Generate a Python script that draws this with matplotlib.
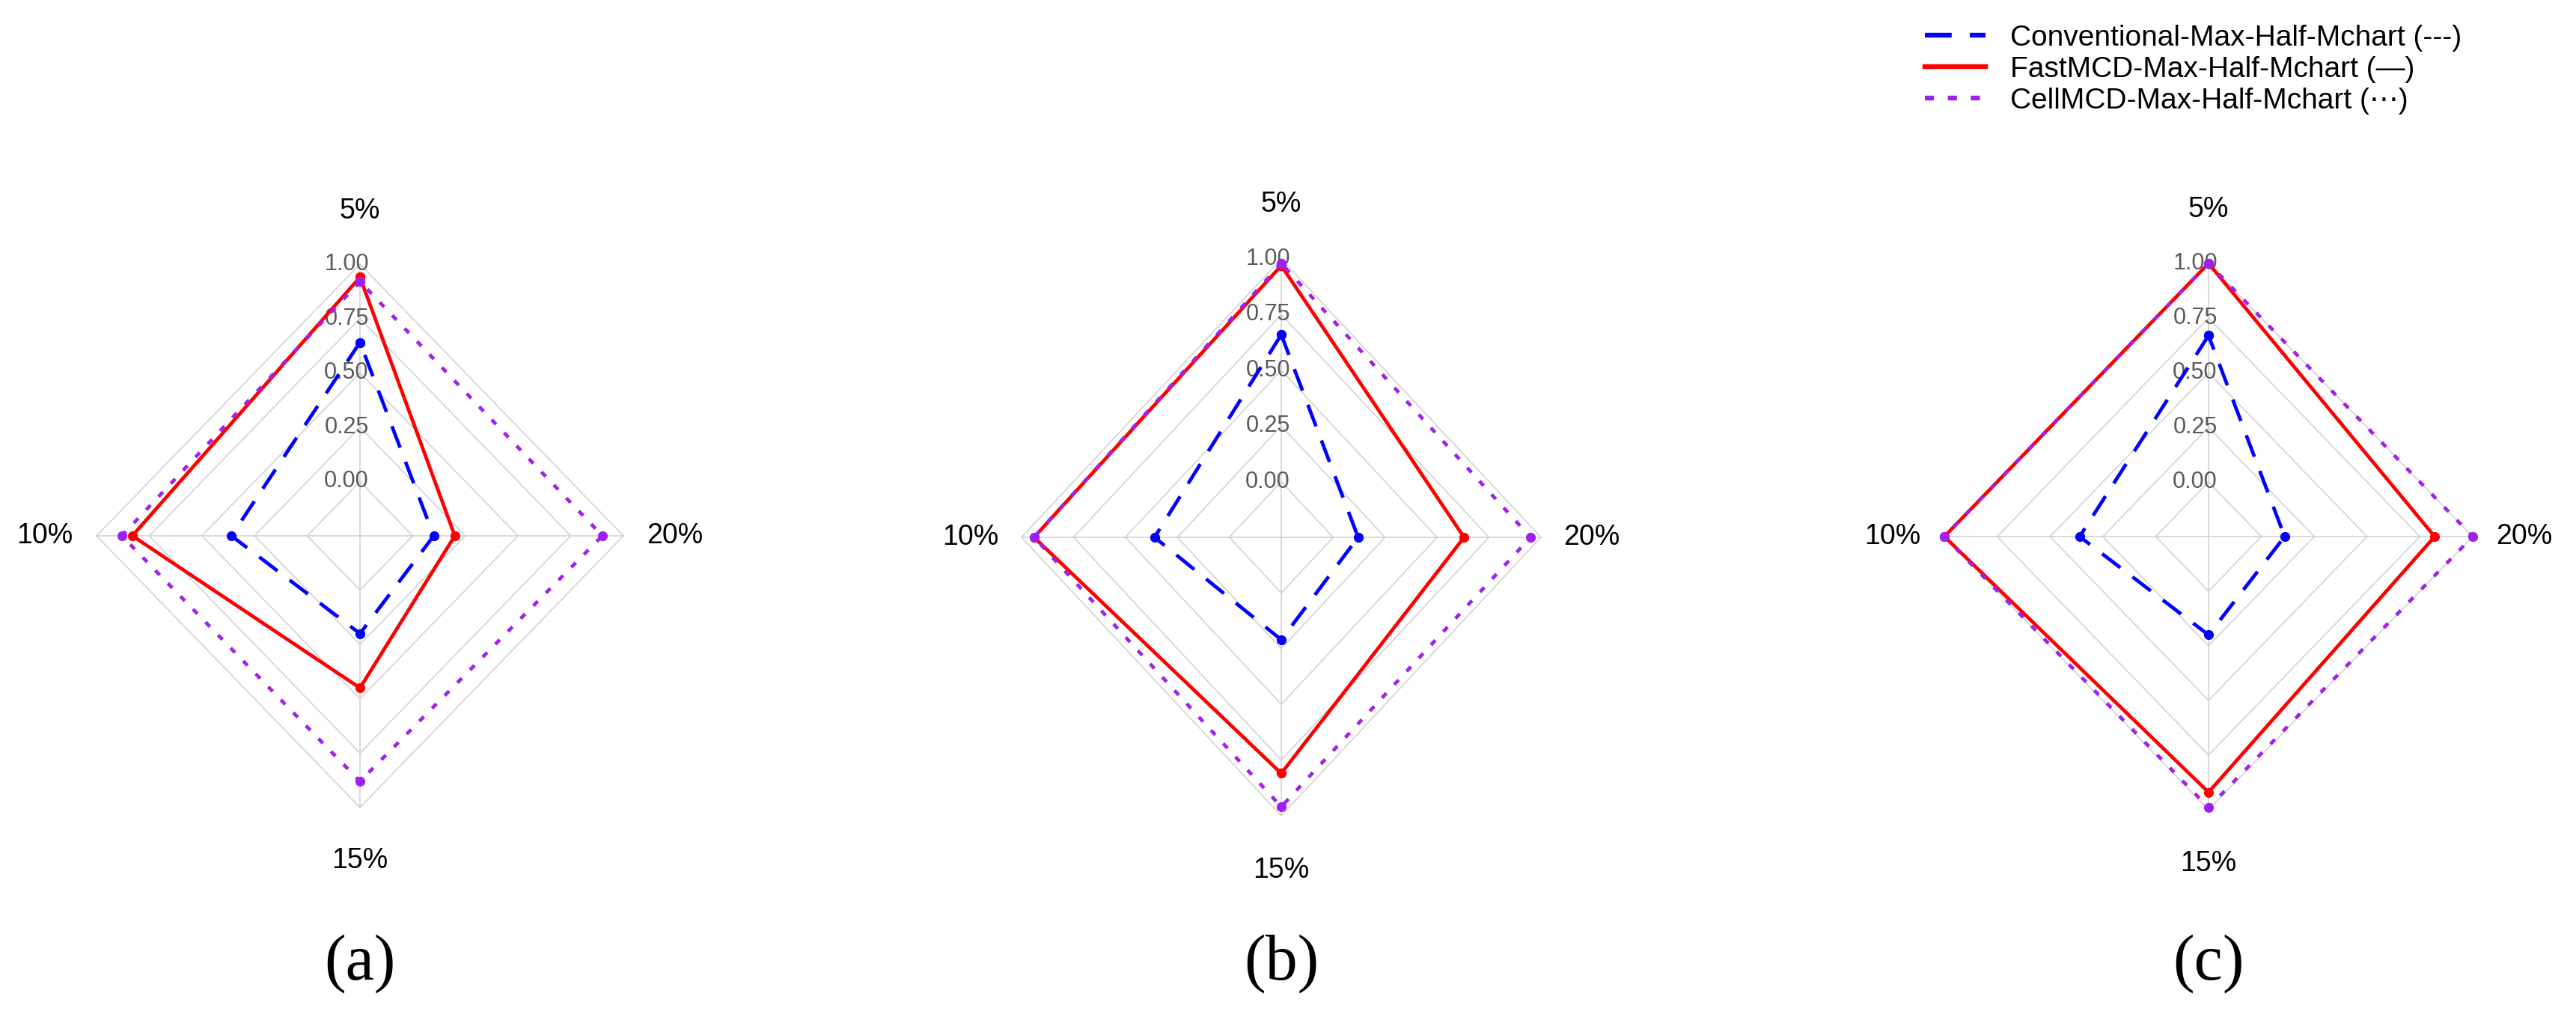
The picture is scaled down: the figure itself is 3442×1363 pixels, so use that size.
import matplotlib
matplotlib.use("Agg")
import matplotlib.pyplot as plt
from matplotlib.lines import Line2D
from matplotlib.transforms import offset_copy
import numpy as np

plt.rcParams['font.family'] = ['Liberation Sans', 'DejaVu Sans']

# axes of the radar, counter-clockwise from the top
categories = ['5%', '10%', '15%', '20%']
tick_values = [0.00, 0.25, 0.50, 0.75, 1.00]
tick_labels = ['0.00', '0.25', '0.50', '0.75', '1.00']
panel_labels = ['(a)', '(b)', '(c)']

series_names = ['Conventional-Max-Half-Mchart (---)',
                'FastMCD-Max-Half-Mchart (\u2014)',
                'CellMCD-Max-Half-Mchart (\u22ef)']

# values per panel, order 5%, 10%, 15%, 20%
conventional = [[0.64, 0.36, 0.20, 0.10],
                [0.66, 0.36, 0.21, 0.12],
                [0.67, 0.36, 0.20, 0.11]]
fastmcd = [[0.94, 0.83, 0.45, 0.20],
           [0.97, 0.94, 0.81, 0.63],
           [1.00, 1.00, 0.92, 0.82]]
cellmcd = [[0.92, 0.88, 0.88, 0.90],
           [0.98, 0.94, 0.96, 0.95],
           [1.00, 1.00, 0.99, 1.00]]

W, H = 3442, 1363
fig = plt.figure(figsize=(W / 100, H / 100), dpi=100)

# panel centres and half sizes in pixels
centres = [(481, 716), (1712, 718), (2951, 717)]
halves = [(352, 363), (347, 372), (353, 365)]

styles = [dict(color='#0000FF', dashes=(6.5, 4.3), zorder=3),
          dict(color='#FF0000', linestyle='-', zorder=4),
          dict(color='#A020F0', dashes=(1.8, 3.3), zorder=5)]

angles = np.arange(len(categories)) * 2 * np.pi / len(categories)
closed = np.append(angles, angles[0])

for i in range(3):
    cx, cy = centres[i]
    rx, ry = halves[i]
    ax = fig.add_axes([(cx - rx) / W, 1 - (cy + ry) / H, 2 * rx / W, 2 * ry / H],
                      projection='polar')
    ax.set_aspect('auto')
    ax.set_theta_zero_location('N')
    ax.set_theta_direction(1)

    # diamond grid and spokes
    for v in tick_values:
        ax.plot(closed, [v] * len(closed), color='#cfcfcf', lw=1.1, zorder=1,
                clip_on=False)
    for a in angles:
        ax.plot([a, a], [-0.25, 1.0], color='#cfcfcf', lw=1.1, zorder=1,
                clip_on=False)

    for data, st in zip([conventional[i], fastmcd[i], cellmcd[i]], styles):
        vals = np.append(data, data[0])
        ax.plot(closed, vals, lw=3.4, marker='o', markersize=8.5,
                clip_on=False, **st)

    ax.set_ylim(0, 1)
    ax.set_rorigin(-0.25)
    ax.axis('off')
    ax.patch.set_visible(False)

    tr = offset_copy(ax.transData, fig=fig, x=-18, y=0, units='dots')
    for v, lab in zip(tick_values, tick_labels):
        ax.text(0, v, lab, transform=tr, ha='center', va='center',
                fontsize=22, color='#5a5a5a', zorder=2)

    for a, lab in zip(angles, categories):
        ax.text(a, 1.245, lab, ha='center', va='center', fontsize=27,
                color='black')

    fig.text(cx / W, 1 - 1288 / H, panel_labels[i], ha='center', va='center',
             fontsize=62, family='Liberation Serif')

handles = [Line2D([], [], lw=4.6, color='#0000FF', dashes=(5.6, 3.8)),
           Line2D([], [], lw=4.6, color='#FF0000'),
           Line2D([], [], lw=4.6, color='#A020F0', dashes=(1.9, 2.9))]
fig.legend(handles, series_names, loc='upper left',
           bbox_to_anchor=(2572 / W, 1 - 33 / H), frameon=False,
           fontsize=28, handlelength=2.07, handletextpad=0.87,
           labelspacing=0.15, borderpad=0, borderaxespad=0)

fig.savefig('out.png', dpi=100)
